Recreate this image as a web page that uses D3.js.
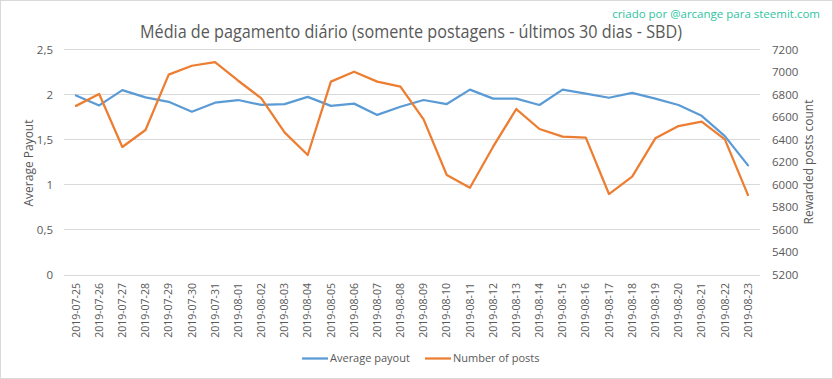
<!DOCTYPE html>
<html><head><meta charset="utf-8">
<script src="https://cdn.jsdelivr.net/npm/d3@7"></script>
<style>body{margin:0;background:#fff}svg{display:block}text{font-family:"Open Sans",sans-serif;fill:#595959}</style>
</head><body>
<svg id="c" width="833" height="379"></svg>
<script>
const dates = ["2019-07-25","2019-07-26","2019-07-27","2019-07-28","2019-07-29","2019-07-30","2019-07-31","2019-08-01","2019-08-02","2019-08-03","2019-08-04","2019-08-05","2019-08-06","2019-08-07","2019-08-08","2019-08-09","2019-08-10","2019-08-11","2019-08-12","2019-08-13","2019-08-14","2019-08-15","2019-08-16","2019-08-17","2019-08-18","2019-08-19","2019-08-20","2019-08-21","2019-08-22","2019-08-23"];
const avgPayout = [1.99,1.88,2.05,1.97,1.92,1.81,1.91,1.94,1.885,1.895,1.975,1.875,1.90,1.775,1.865,1.94,1.895,2.055,1.955,1.955,1.885,2.055,2.01,1.965,2.02,1.955,1.885,1.765,1.54,1.215];
const numPosts = [6700,6805,6335,6486,6977,7056,7089,6923,6767,6465,6264,6915,7003,6915,6870,6580,6087,5974,6338,6672,6495,6427,6418,5918,6072,6412,6521,6560,6403,5909];
const leftTicks = [0,0.5,1,1.5,2,2.5];
const rightTicks = [5200,5400,5600,5800,6000,6200,6400,6600,6800,7000,7200];
const seriesNames = ["Average payout","Number of posts"];
const title = "Média de pagamento diário (somente postagens - últimos 30 dias - SBD)";
const credit = "criado por @arcange para steemit.com";

const svg = d3.select("#c");
const W=833,H=379;
const x0=64.4,x1=759.6,yTop=49.5,yBot=275;
const blue="#5b9bd5", orange="#ed7d31", grid="#d9d9d9";

svg.append("rect").attr("x",0.5).attr("y",0.5).attr("width",W-1).attr("height",H-1).attr("fill","#fff").attr("stroke",grid);

const x = d3.scalePoint().domain(dates).range([x0,x1]).padding(0.5);
const yL = d3.scaleLinear().domain([0,2.5]).range([yBot,yTop]);
const yR = d3.scaleLinear().domain([5200,7200]).range([yBot,yTop]);

// gridlines
svg.append("g").selectAll("line").data(leftTicks).join("line")
  .attr("x1",x0).attr("x2",x1).attr("y1",d=>yL(d)).attr("y2",d=>yL(d))
  .attr("stroke",grid).attr("stroke-width",1).attr("shape-rendering","crispEdges");

const fmtL = d=> String(d).replace(".",",");
svg.append("g").selectAll("text").data(leftTicks).join("text")
  .attr("x",53).attr("y",d=>yL(d)).attr("dy","0.35em").attr("text-anchor","end")
  .attr("font-size",11.5).text(fmtL);
svg.append("g").selectAll("text").data(rightTicks).join("text")
  .attr("x",772).attr("y",d=>yR(d)).attr("dy","0.35em").attr("text-anchor","start")
  .attr("font-size",11.5).text(d=>d);

// x labels
svg.append("g").selectAll("text").data(dates).join("text")
  .attr("transform",d=>`translate(${x(d)},283) rotate(-90)`)
  .attr("dy","0.35em").attr("text-anchor","end").attr("font-size",10.5).text(d=>d);

// axis titles
svg.append("text").attr("transform","translate(29,163) rotate(-90)").attr("dy","0.35em")
  .attr("text-anchor","middle").attr("font-size",12).text("Average Payout");
svg.append("text").attr("transform","translate(809,162) rotate(-90)").attr("dy","0.35em")
  .attr("text-anchor","middle").attr("font-size",12).text("Rewarded posts count");

// lines
const lineL = d3.line().x((d,i)=>x(dates[i])).y(d=>yL(d));
const lineR = d3.line().x((d,i)=>x(dates[i])).y(d=>yR(d));
svg.append("path").attr("d",lineL(avgPayout)).attr("fill","none").attr("stroke",blue).attr("stroke-width",2.25).attr("stroke-linejoin","round").attr("stroke-linecap","round");
svg.append("path").attr("d",lineR(numPosts)).attr("fill","none").attr("stroke",orange).attr("stroke-width",2.25).attr("stroke-linejoin","round").attr("stroke-linecap","round");

// title
svg.append("text").attr("x",411).attr("y",37.5).attr("text-anchor","middle").attr("font-size",17.5)
  .attr("textLength",542).attr("lengthAdjust","spacingAndGlyphs").text(title);
svg.append("text").attr("x",820).attr("y",17.5).attr("text-anchor","end").attr("font-size",11.5)
  .style("fill","#2ec4a0").text(credit);

// legend
const leg = [{n:seriesNames[0],c:blue,x:302},{n:seriesNames[1],c:orange,x:425}];
const lg = svg.append("g").selectAll("g").data(leg).join("g");
lg.append("line").attr("x1",d=>d.x).attr("x2",d=>d.x+26).attr("y1",358.5).attr("y2",358.5).attr("stroke",d=>d.c).attr("stroke-width",2.25);
lg.append("text").attr("x",d=>d.x+28).attr("y",358.5).attr("dy","0.35em").attr("font-size",11).text(d=>d.n);
</script>
</body></html>
